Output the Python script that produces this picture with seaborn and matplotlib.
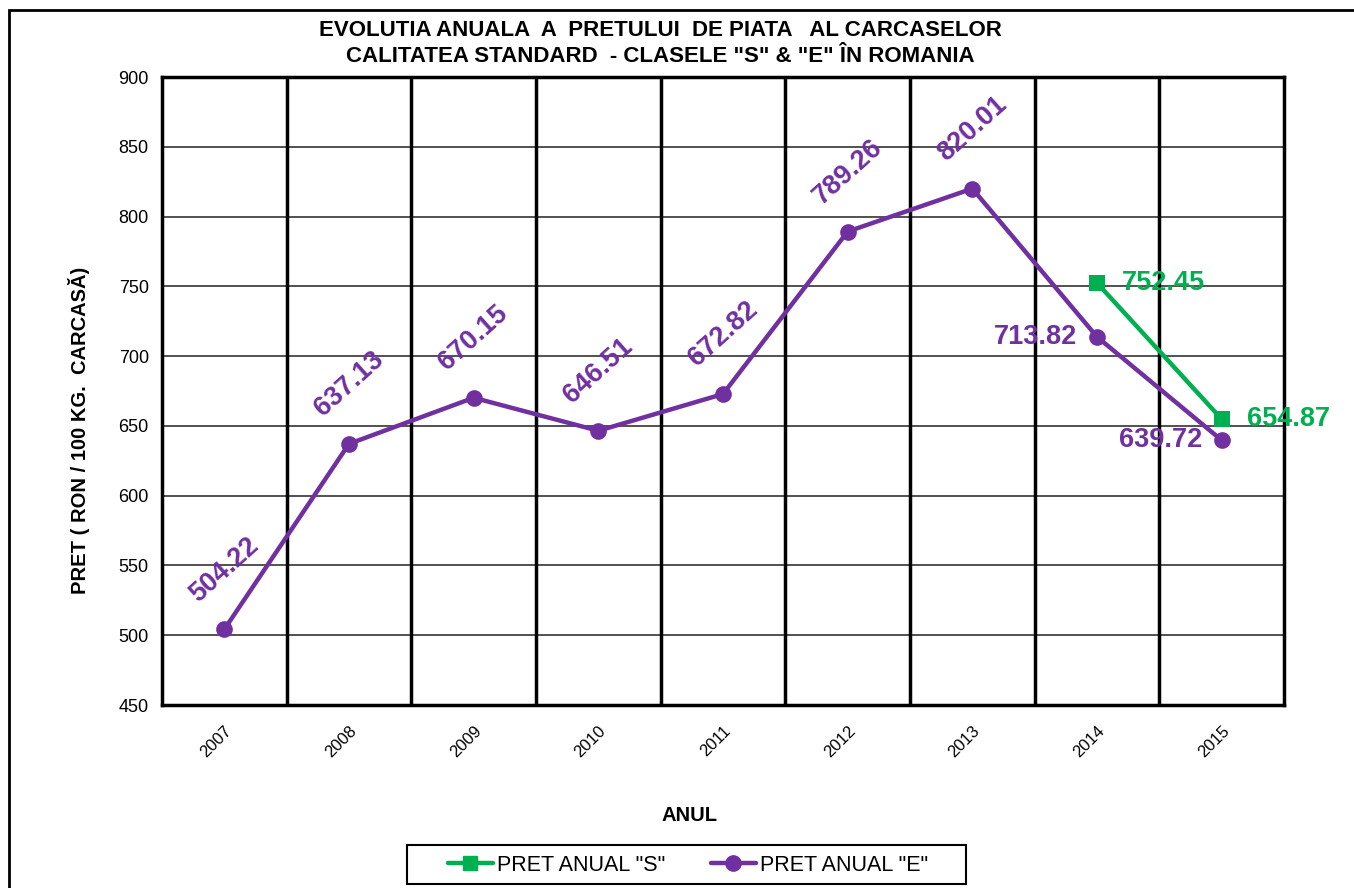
import numpy as np
import pandas as pd
import seaborn as sns
import matplotlib
matplotlib.use("Agg")
from matplotlib import pyplot as plt
from matplotlib.ticker import MultipleLocator
from matplotlib.lines import Line2D
from matplotlib.patches import Rectangle

#%% Data
years = ["2007", "2008", "2009", "2010", "2011", "2012", "2013", "2014", "2015"]
pret_e = [504.22, 637.13, 670.15, 646.51, 672.82, 789.26, 820.01, 713.82, 639.72]
years_s = ["2014", "2015"]
pret_s = [752.45, 654.87]

purple = "#7030A0"
green = "#00B050"

#%% Frames
df_e = pd.DataFrame({"An": years, "Pret": pret_e})
df_e["x"] = range(len(years))
df_s = pd.DataFrame({"An": years_s, "Pret": pret_s})
df_s["x"] = [years.index(y) for y in years_s]

#%% Plot
sns.set_style("white")
plt.rcParams["font.family"] = ["Liberation Sans", "DejaVu Sans"]
plt.rcParams["text.color"] = "black"
plt.rcParams["axes.labelcolor"] = "black"
plt.rcParams["xtick.color"] = "black"
plt.rcParams["ytick.color"] = "black"

W, H = 1354, 888
fig = plt.figure(figsize=(W / 100, H / 100), dpi=100)
ax = fig.add_axes([162 / W, 1 - 705 / H, 1122 / W, 628 / H])

# outer frame (top/left only visible)
fig.patches.append(Rectangle((9 / W, -0.1), 1.2, (H - 10) / H + 0.1,
                             transform=fig.transFigure, fill=False,
                             edgecolor="black", linewidth=2, zorder=0))

sns.lineplot(data=df_e, x="x", y="Pret", ax=ax, color=purple, linewidth=3.2,
             marker="o", markersize=12, markeredgewidth=0, zorder=5)
sns.lineplot(data=df_s, x="x", y="Pret", ax=ax, color=green, linewidth=3.2,
             marker="s", markersize=11, markeredgewidth=0, zorder=6)

ax.set_xlim(-0.5, len(years) - 0.5)
ax.set_ylim(450, 900)
ax.yaxis.set_major_locator(MultipleLocator(50))
ax.yaxis.set_minor_locator(MultipleLocator(10))
ax.set_xticks(range(len(years)))
ax.set_xticklabels(years, rotation=45, fontsize=12, ha="right", va="top",
                   rotation_mode="anchor")
ax.set_xticks(np.arange(-0.5, len(years)), minor=True)
ax.tick_params(axis="x", which="major", length=0, pad=13)
ax.tick_params(axis="x", which="minor", length=7, width=2.5, direction="inout")
ax.tick_params(axis="y", which="major", length=7, width=2.5, direction="inout",
               labelsize=13, pad=6)
ax.tick_params(axis="y", which="minor", length=5, width=2.5, direction="in")

# grid
for v in np.arange(500, 901, 50):
    ax.axhline(v, color="#333333", linewidth=1.2, zorder=1)
for b in np.arange(0.5, len(years) - 1):
    ax.axvline(b, color="black", linewidth=2.5, zorder=1)
for s in ax.spines.values():
    s.set_linewidth(2.5)
    s.set_color("black")

ax.set_xlabel("ANUL", fontsize=14.5, fontweight="bold")
ax.xaxis.set_label_coords((690 - 162) / 1122, -(806 - 705) / 628)
ax.set_ylabel("PRET ( RON / 100 KG.  CARCASĂ)", fontsize=14.5, fontweight="bold")
ax.yaxis.set_label_coords(-(162 - 90) / 1122, (705 - 430) / 628)

fig.text(0.488, 1 - 31 / H, "EVOLUTIA ANUALA  A  PRETULUI  DE PIATA   AL CARCASELOR",
         ha="center", va="center", fontsize=16, fontweight="bold")
fig.text(0.488, 1 - 57 / H, "CALITATEA STANDARD  - CLASELE \"S\" & \"E\" ÎN ROMANIA",
         ha="center", va="center", fontsize=16, fontweight="bold")

# data labels
for i, v in enumerate(pret_e):
    if i < 7:
        ax.annotate(f"{v:.2f}", (i, v), xytext=(0, 43), textcoords="offset points",
                    ha="center", va="center", rotation=42, fontsize=19.5,
                    fontweight="bold", color=purple)
    else:
        ax.annotate(f"{v:.2f}", (i, v), xytext=(-14, 0), textcoords="offset points",
                    ha="right", va="center", fontsize=19.5, fontweight="bold",
                    color=purple)
for x, v in zip(df_s["x"], pret_s):
    ax.annotate(f"{v:.2f}", (x, v), xytext=(18, 0), textcoords="offset points",
                ha="left", va="center", fontsize=19.5, fontweight="bold", color=green)

# legend box drawn separately
fig.patches.append(Rectangle((407 / W, 1 - 884 / H), 559 / W, 39 / H,
                             transform=fig.transFigure, fill=False,
                             edgecolor="black", linewidth=1.5, zorder=3))
handles = [Line2D([], [], color=green, linewidth=3.2, marker="s", markersize=10),
           Line2D([], [], color=purple, linewidth=3.2, marker="o", markersize=11)]
leg = fig.legend(handles, ['PRET ANUAL "S"', 'PRET ANUAL "E"'], ncol=2,
                 loc="center", bbox_to_anchor=(688 / W, 1 - 865 / H),
                 fontsize=15.5, frameon=False,
                 handlelength=2.1, handletextpad=0.2, columnspacing=2.1,
                 borderpad=0.2)

fig.savefig("out.png", dpi=100)
print("Finished")
